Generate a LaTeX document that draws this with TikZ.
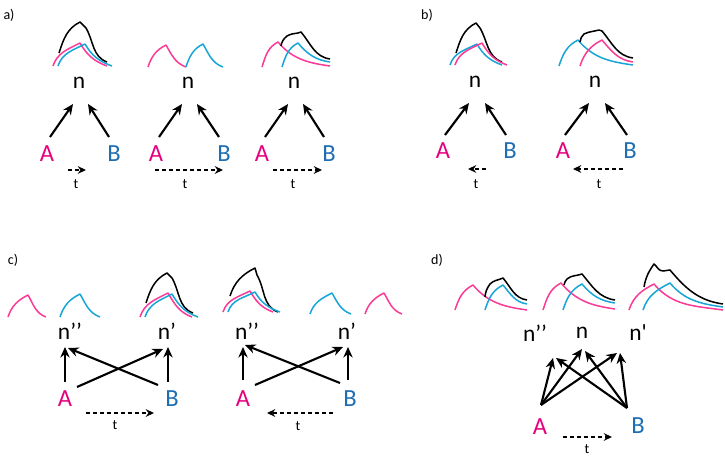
\documentclass[tikz,border=0pt]{standalone}
\usepackage{fontspec}
\setmainfont{Carlito}
\usepackage{tikz}
\usetikzlibrary{arrows.meta,positioning}
\usepackage{xcolor}
\definecolor{spkpink}{RGB}{250,60,150}
\definecolor{spkcyan}{RGB}{25,165,215}
\definecolor{lblpink}{RGB}{230,0,126}
\definecolor{lblblue}{RGB}{30,110,180}
\tikzstyle{arrow} = [line width=1.8pt,->,>={Stealth[length=9pt,width=8pt]}]
\tikzstyle{tarrow} = [line width=1.4pt,->,>={Stealth[length=7pt,width=6.5pt]},dash pattern=on 3.5pt off 2.5pt]
\tikzstyle{cell} = [inner sep=0pt, font=\fontsize{20pt}{24pt}\selectfont]
\tikzstyle{cellA} = [inner sep=0pt, text=lblpink, font=\fontsize{21pt}{24pt}\selectfont]
\tikzstyle{cellB} = [inner sep=0pt, text=lblblue, font=\fontsize{21pt}{24pt}\selectfont]
\tikzstyle{tlabel} = [inner sep=0pt, font=\fontsize{12pt}{14pt}\selectfont]
\tikzstyle{panel} = [inner sep=0pt, font=\fontsize{12pt}{14pt}\selectfont]
\tikzstyle{wave} = [line width=1.3pt, line join=round]
\tikzstyle{rise} = [out=72, in=207]
\tikzstyle{decay} = [out=-60, in=160]
\tikzstyle{tail} = [out=-50, in=172]

\begin{document}
\begin{tikzpicture}[x=0.03cm, y=-0.03cm]
    \useasboundingbox (0,0) rectangle (725,458);

    % Panel labels
    \node[panel] (pa) at (9,15) {a)};
    \node[panel] (pb) at (427,15) {b)};
    \node[panel] (pc) at (13,260) {c)};
    \node[panel] (pd) at (437,260) {d)};

    % a) near together
    \draw[wave, black] (59,53) to[rise] (80,22) -- (86,28) to[decay] (107,62);
    \draw[wave, spkpink] (53,66) to[rise] (80,43) to[decay] (107,66);
    \draw[wave, spkcyan] (58,66) to[rise] (85,44) to[decay] (112,66);
    \node[cell] (na1) at (79,83) {n};
    \node[cellA] (Aa1) at (47,154) {A};
    \node[cellB] (Ba1) at (114,154) {B};
    \draw[arrow] ([shift={(3,-17)}]Aa1.center) -- ([shift={(-6,21)}]na1.center);
    \draw[arrow] ([shift={(-5,-17)}]Ba1.center) -- ([shift={(9,21)}]na1.center);
    \node[tlabel] (ta1) at (76,184) {t};
    \draw[tarrow] ([shift={(-8,-14)}]ta1.center) -- ([shift={(10,-14)}]ta1.center);

    % a) far apart
    \draw[wave, spkpink] (148,67) to[rise] (166,45) to[decay] (186,67);
    \draw[wave, spkcyan] (186,67) to[rise] (203,44) to[decay] (223,67);
    \node[cell] (na2) at (188,83) {n};
    \node[cellA] (Aa2) at (156,154) {A};
    \node[cellB] (Ba2) at (224,154) {B};
    \draw[arrow] ([shift={(3,-17)}]Aa2.center) -- ([shift={(-6,21)}]na2.center);
    \draw[arrow] ([shift={(-5,-17)}]Ba2.center) -- ([shift={(9,21)}]na2.center);
    \node[tlabel] (ta2) at (185,184) {t};
    \draw[tarrow] ([shift={(-30,-14)}]ta2.center) -- ([shift={(38,-14)}]ta2.center);

    % a) in between
    \draw[wave, spkpink] (262,67) to[rise] (278,42) to[tail] (330,66);
    \draw[wave, spkcyan] (282,67) to[rise] (298,43) to[tail] (330,62);
    \draw[wave, black] (281,46) to[out=80,in=220] (287,36) to[out=30,in=190] (298,33) -- (301,32) to[tail] (330,59);
    \node[cell] (na3) at (294,83) {n};
    \node[cellA] (Aa3) at (262,154) {A};
    \node[cellB] (Ba3) at (329,154) {B};
    \draw[arrow] ([shift={(3,-17)}]Aa3.center) -- ([shift={(-6,21)}]na3.center);
    \draw[arrow] ([shift={(-5,-17)}]Ba3.center) -- ([shift={(9,21)}]na3.center);
    \node[tlabel] (ta3) at (293,184) {t};
    \draw[tarrow] ([shift={(-20,-14)}]ta3.center) -- ([shift={(29,-14)}]ta3.center);

    % b) near together
    \draw[wave, black] (456,53) to[rise] (476,23) -- (480,28) to[decay] (502,62);
    \draw[wave, spkcyan] (450,65) to[rise] (477,44) to[decay] (502,65);
    \draw[wave, spkpink] (455,65) to[rise] (482,43) to[decay] (507,65);
    \node[cell] (nb1) at (475,82) {n};
    \node[cellA] (Ab1) at (443,151) {A};
    \node[cellB] (Bb1) at (510,151) {B};
    \draw[arrow] ([shift={(2,-16)}]Ab1.center) -- ([shift={(-6,21)}]nb1.center);
    \draw[arrow] ([shift={(-4,-16)}]Bb1.center) -- ([shift={(10,21)}]nb1.center);
    \node[tlabel] (tb1) at (476,184) {t};
    \draw[tarrow] ([shift={(10,-15)}]tb1.center) -- ([shift={(-8,-15)}]tb1.center);

    % b) in between
    \draw[wave, spkcyan] (559,66) to[rise] (578,40) to[tail] (633,65);
    \draw[wave, spkpink] (580,66) to[rise] (602,40) to[tail] (633,62);
    \draw[wave, black] (580,42) to[out=80,in=220] (584,34) to[out=25,in=195] (599,30) -- (602,31) to[tail] (633,58);
    \node[cell] (nb2) at (595,82) {n};
    \node[cellA] (Ab2) at (563,151) {A};
    \node[cellB] (Bb2) at (630,151) {B};
    \draw[arrow] ([shift={(2,-16)}]Ab2.center) -- ([shift={(-6,21)}]nb2.center);
    \draw[arrow] ([shift={(-3,-16)}]Bb2.center) -- ([shift={(10,21)}]nb2.center);
    \node[tlabel] (tb2) at (599,184) {t};
    \draw[tarrow] ([shift={(24,-15)}]tb2.center) -- ([shift={(-26,-15)}]tb2.center);

    % c) A before B
    \draw[wave, spkpink] (8,317) to[rise] (28,295) to[decay] (46,317);
    \draw[wave, spkcyan] (60,317) to[rise] (80,294) to[decay] (100,317);
    \draw[wave, black] (146,303) to[rise] (167,273) -- (172,278) to[decay] (193,313);
    \draw[wave, spkpink] (140,317) to[rise] (168,293) to[decay] (192,317);
    \draw[wave, spkcyan] (145,317) to[rise] (172,294) to[decay] (198,317);
    \node[cell] (nppc1) at (70,331) {n’’};
    \node[cell] (npc1) at (167,331) {n’};
    \node[cellA] (Ac1) at (65,399) {A};
    \node[cellB] (Bc1) at (172,399) {B};
    \draw[arrow] ([shift={(0,-17)}]Ac1.center) -- ([shift={(-5,16)}]nppc1.center);
    \draw[arrow] ([shift={(12,-12)}]Ac1.center) -- ([shift={(-4,18)}]npc1.center);
    \draw[arrow] ([shift={(-14,-14)}]Bc1.center) -- ([shift={(-2,17)}]nppc1.center);
    \draw[arrow] ([shift={(-4,-17)}]Bc1.center) -- ([shift={(1,16)}]npc1.center);
    \node[tlabel] (tc1) at (115,425) {t};
    \draw[tarrow] ([shift={(-29,-12)}]tc1.center) -- ([shift={(39,-12)}]tc1.center);

    % c) B before A
    \draw[wave, black] (230,296) to[rise] (255,268) -- (257,275) to[decay] (278,312);
    \draw[wave, spkpink] (223,312) to[rise] (250,291) to[decay] (273,312);
    \draw[wave, spkcyan] (228,312) to[rise] (255,292) to[decay] (280,312);
    \draw[wave, spkcyan] (310,314) to[rise] (332,293) to[decay] (351,314);
    \draw[wave, spkpink] (365,314) to[rise] (384,293) to[decay] (402,314);
    \node[cell] (nppc2) at (247,331) {n’’};
    \node[cell] (npc2) at (347,331) {n’};
    \node[cellA] (Ac2) at (243,399) {A};
    \node[cellB] (Bc2) at (350,399) {B};
    \draw[arrow] ([shift={(0,-19)}]Ac2.center) -- ([shift={(-4,16)}]nppc2.center);
    \draw[arrow] ([shift={(12,-14)}]Ac2.center) -- ([shift={(-4,16)}]npc2.center);
    \draw[arrow] ([shift={(-10,-16)}]Bc2.center) -- ([shift={(-2,14)}]nppc2.center);
    \draw[arrow] ([shift={(-2,-19)}]Bc2.center) -- ([shift={(1,16)}]npc2.center);
    \node[tlabel] (tc2) at (298,426) {t};
    \draw[tarrow] ([shift={(35,-13)}]tc2.center) -- ([shift={(-31,-13)}]tc2.center);

    % d) three targets
    \draw[wave, spkpink] (455,310) to[rise] (473,285) to[tail] (527,310);
    \draw[wave, spkcyan] (485,310) to[rise] (503,285) to[tail] (527,304);
    \draw[wave, black] (485,297) to[out=85,in=235] (490,284) to[out=45,in=205] (503,278) to[tail] (527,300);
    \draw[wave, spkpink] (543,310) to[rise] (561,283) to[tail] (615,309);
    \draw[wave, spkcyan] (563,310) to[rise] (582,284) to[tail] (615,303);
    \draw[wave, black] (564,285) to[out=85,in=235] (567,279) to[out=40,in=200] (582,274) to[tail] (615,300);
    \draw[wave, spkpink] (629,310) to[rise] (654,284) to[tail] (723,310);
    \draw[wave, spkcyan] (643,310) to[rise] (670,283) to[tail] (723,307);
    \draw[wave, black] (644,287) to[out=80,in=235] (654,264) to[out=-40,in=180] (663,271) -- (670,270) to[tail] (723,304);
    \node[cell] (nppd) at (535,333) {n’’};
    \node[cell] (nd) at (582,333) {n};
    \node[cell] (npd) at (638,333) {n\textquotesingle};
    \node[cellA] (Ad) at (540,427) {A};
    \node[cellB] (Bd) at (638,426) {B};
    \draw[arrow] ([shift={(1,-22)}]Ad.center) -- ([shift={(18,25)}]nppd.center);
    \draw[arrow] ([shift={(1,-22)}]Ad.center) -- ([shift={(0,16)}]nd.center);
    \draw[arrow] ([shift={(1,-22)}]Ad.center) -- ([shift={(-21,20)}]npd.center);
    \draw[arrow] ([shift={(-11,-18)}]Bd.center) -- ([shift={(21,25)}]nppd.center);
    \draw[arrow] ([shift={(-11,-18)}]Bd.center) -- ([shift={(3,18)}]nd.center);
    \draw[arrow] ([shift={(-11,-18)}]Bd.center) -- ([shift={(-18,20)}]npd.center);
    \node[tlabel] (td) at (587,449) {t};
    \draw[tarrow] ([shift={(-24,-12)}]td.center) -- ([shift={(25,-12)}]td.center);
\end{tikzpicture}
\end{document}
